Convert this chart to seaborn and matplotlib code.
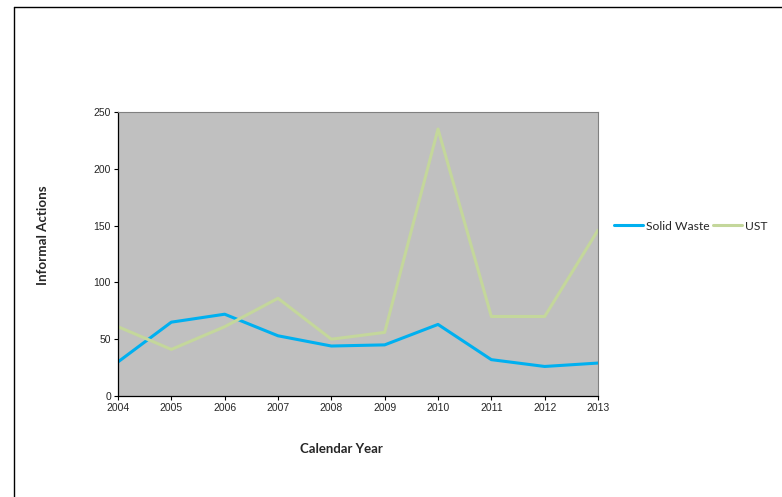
import matplotlib
matplotlib.use("Agg")
import matplotlib.pyplot as plt
from matplotlib.lines import Line2D
import seaborn as sns
import pandas as pd

# values
years = [2004, 2005, 2006, 2007, 2008, 2009, 2010, 2011, 2012, 2013]
solid_waste = [30, 65, 72, 53, 44, 45, 63, 32, 26, 29]
ust = [61, 41, 61, 86, 50, 56, 235, 70, 70, 146]
series_names = ["Solid Waste", "UST"]
y_ticks = [0, 50, 100, 150, 200, 250]

df = pd.DataFrame({
    "year": years * 2,
    "value": solid_waste + ust,
    "series": [series_names[0]] * len(years) + [series_names[1]] * len(years),
})

sns.set_style("white")
plt.rcParams["font.family"] = ["Liberation Sans", "DejaVu Sans"]

fig = plt.figure(figsize=(7.82, 4.97), dpi=100)
ax = fig.add_axes([118 / 782, 1 - 396 / 497, 480 / 782, 284 / 497])
ax.set_facecolor("#C0C0C0")

palette = {"Solid Waste": "#00B0F0", "UST": "#C4D79B"}
sns.lineplot(data=df, x="year", y="value", hue="series", palette=palette,
             linewidth=2.2, ax=ax, legend=False)

ax.set_xlim(years[0], years[-1])
ax.set_ylim(0, 250)
ax.set_xticks(years)
ax.set_yticks(y_ticks)
ax.tick_params(axis="both", labelsize=7.5, length=3, width=0.8,
               direction="out", color="black", pad=2)
ax.tick_params(axis="x", bottom=True)
ax.tick_params(axis="y", left=True)

for side in ["left", "bottom"]:
    ax.spines[side].set_color("black")
    ax.spines[side].set_linewidth(0.9)
for side in ["right", "top"]:
    ax.spines[side].set_color("#808080")
    ax.spines[side].set_linewidth(0.8)

label_font = ["Lato", "DejaVu Sans"]
ax.set_xlabel("Calendar Year", fontsize=9.5, fontweight="bold", family=label_font)
ax.set_ylabel("Informal Actions", fontsize=9.6, fontweight="bold", family=label_font)
ax.xaxis.set_label_coords((341 - 118) / 480, -(443 - 396) / 284)
ax.yaxis.set_label_coords(-(118 - 49) / 480, (396 - 235) / 284)

handles = [Line2D([], [], color=palette[n], linewidth=2.2) for n in series_names]
fig.legend(handles, series_names, loc="center left", bbox_to_anchor=(603 / 782, 1 - 226 / 497),
           ncol=2, frameon=False, handlelength=2.4, handletextpad=0.3, columnspacing=0.2,
           prop={"family": label_font, "size": 8.7})

# chart frame (only top and left edges visible)
fig.add_artist(Line2D([14 / 782, 14 / 782], [0, 1 - 7 / 497], color="black", linewidth=1.0,
                      transform=fig.transFigure))
fig.add_artist(Line2D([14 / 782, 1], [1 - 7 / 497, 1 - 7 / 497], color="black", linewidth=1.0,
                      transform=fig.transFigure))

fig.savefig("out.png", dpi=100)
